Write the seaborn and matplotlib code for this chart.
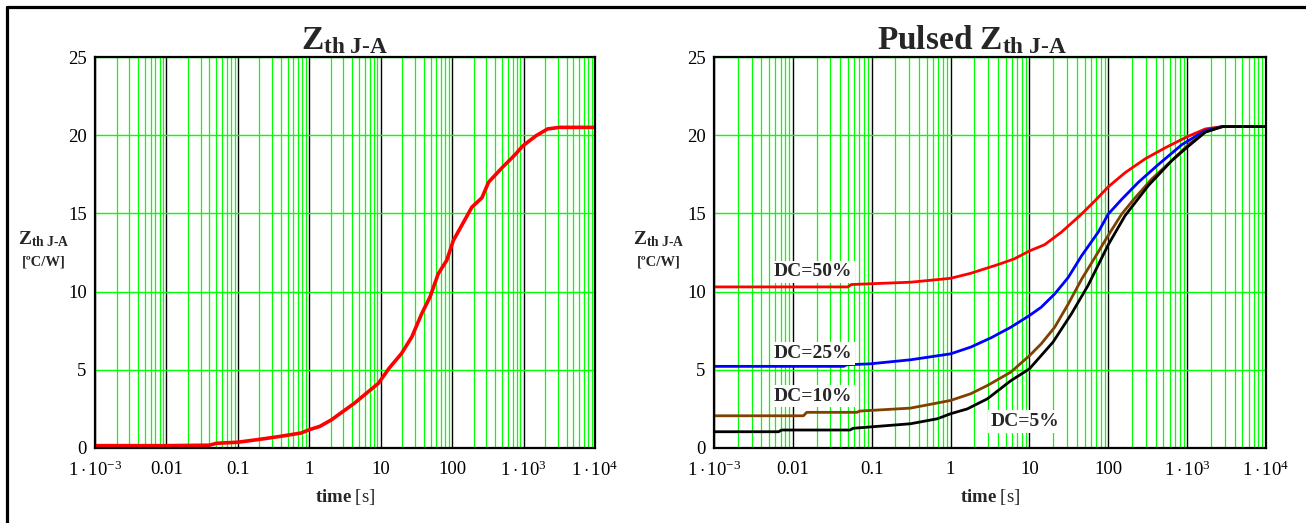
import numpy as np
import matplotlib
matplotlib.use("Agg")
import matplotlib.pyplot as plt
from matplotlib.lines import Line2D
from matplotlib.ticker import LogLocator, NullFormatter, FixedLocator
import seaborn as sns

# --- data (time in s, Zth in degC/W) ---
t_single = [1e-3, 0.01, 0.04, 0.05, 0.1, 0.2, 0.4, 0.77, 1, 1.4, 2.04, 4.3, 9.3, 13.1, 19.6,
            27.3, 37.6, 49, 64, 84, 104, 189, 261, 324, 505, 777, 966, 1490, 2170, 3170, 1e4]
z_single = [0.15, 0.15, 0.18, 0.3, 0.37, 0.55, 0.75, 0.96, 1.17, 1.38, 1.8, 2.87, 4.14, 5.1, 6.05,
            7.11, 8.6, 9.66, 11.15, 12.0, 13.27, 15.4, 16.0, 17.0, 17.94, 18.8, 19.3, 19.96, 20.4, 20.5, 20.5]

t_dc50 = [1e-3, 0.05, 0.055, 0.095, 0.31, 1, 1.8, 3.95, 6.4, 10, 15.6, 25.4, 43.5, 67.6, 100,
          163, 296, 530, 1000, 1700, 2800, 1e4]
z_dc50 = [10.3, 10.3, 10.45, 10.5, 10.6, 10.85, 11.17, 11.72, 12.09, 12.6, 13.0, 13.8, 14.85, 15.8, 16.7,
          17.6, 18.5, 19.2, 19.9, 20.4, 20.55, 20.55]

t_dc25 = [1e-3, 0.044, 0.048, 0.095, 0.31, 1, 1.8, 3.24, 5.8, 10, 14.1, 20.9, 31, 46, 74.5, 100,
          148, 242, 437, 860, 1700, 2800, 1e4]
z_dc25 = [5.22, 5.22, 5.32, 5.38, 5.64, 6.02, 6.45, 7.04, 7.72, 8.47, 9.0, 9.85, 10.9, 12.3, 13.8, 14.96,
          15.9, 17.0, 18.15, 19.4, 20.3, 20.55, 20.55]

t_dc10 = [1e-3, 0.0136, 0.015, 0.065, 0.07, 0.31, 1, 1.8, 2.94, 5.8, 10, 14.1, 20.9, 31, 46, 68,
          100, 148, 219, 356, 646, 1040, 1700, 2800, 1e4]
z_dc10 = [2.06, 2.06, 2.28, 2.28, 2.36, 2.55, 3.04, 3.47, 4.0, 4.85, 5.9, 6.66, 7.72, 9.2, 10.8, 12.2,
          13.6, 14.96, 16.0, 17.2, 18.4, 19.4, 20.2, 20.55, 20.55]

t_dc5 = [1e-3, 0.0066, 0.0072, 0.053, 0.058, 0.31, 0.68, 1, 1.63, 2.94, 5.8, 10, 19.9, 34, 55.5,
         100, 163, 325, 646, 1040, 1700, 2800, 1e4]
z_dc5 = [1.04, 1.04, 1.15, 1.15, 1.26, 1.55, 1.87, 2.19, 2.5, 3.15, 4.3, 5.06, 6.77, 8.57, 10.4,
         13.0, 14.85, 16.8, 18.4, 19.3, 20.2, 20.55, 20.55]

x_ticks = [1e-3, 1e-2, 1e-1, 1, 10, 100, 1e3, 1e4]
x_ticklabels = [r'$1\cdot10^{-3}$', '0.01', '0.1', '1', '10', '100', r'$1\cdot10^{3}$', r'$1\cdot10^{4}$']
y_ticks = [0, 5, 10, 15, 20, 25]

dc_labels = ['DC=50%', 'DC=25%', 'DC=10%', 'DC=5%']
dc_label_t = [0.018, 0.018, 0.018, 8.8]
dc_label_z = [11.27, 6.05, 3.32, 1.7]

# --- style ---
sns.set_theme(style="white")
plt.rcParams['font.family'] = ['Liberation Serif', 'DejaVu Serif']
plt.rcParams['mathtext.fontset'] = 'custom'
plt.rcParams['mathtext.rm'] = 'Liberation Serif'
plt.rcParams['mathtext.it'] = 'Liberation Serif:italic'
plt.rcParams['mathtext.bf'] = 'Liberation Serif:bold'

W, H = 1306, 523
fig = plt.figure(figsize=(W / 100, H / 100), dpi=100)
fig.patch.set_facecolor('white')

GREEN = '#00ff00'


def setup_axis(ax):
    ax.set_xscale('log')
    ax.set_xlim(1e-3, 1e4)
    ax.set_ylim(0, 25)
    ax.xaxis.set_major_locator(FixedLocator(x_ticks))
    ax.xaxis.set_minor_locator(LogLocator(base=10, subs=np.arange(2, 10)))
    ax.xaxis.set_minor_formatter(NullFormatter())
    ax.set_xticklabels(x_ticklabels)
    ax.set_yticks(y_ticks)
    ax.grid(which='minor', axis='x', color=GREEN, lw=0.9)
    ax.grid(which='major', axis='x', color='black', lw=1.0)
    ax.grid(which='major', axis='y', color=GREEN, lw=1.0)
    ax.set_axisbelow(True)
    ax.tick_params(which='both', length=0, labelsize=13.5, colors='black')
    ax.tick_params(axis='x', pad=9)
    ax.tick_params(axis='y', pad=6)
    for s in ax.spines.values():
        s.set_color('black')
        s.set_linewidth(1.6)
    ax.set_xlabel('')
    ax.set_ylabel('')


ax1 = fig.add_axes([95 / W, 1 - 448 / H, 500 / W, 391 / H])
ax2 = fig.add_axes([714 / W, 1 - 448 / H, 552 / W, 391 / H])
setup_axis(ax1)
setup_axis(ax2)

# --- curves ---
sns.lineplot(x=t_single, y=z_single, ax=ax1, color='#ff0000', lw=2.6, sort=False)

curves = [(t_dc50, z_dc50, '#ff0000'), (t_dc25, z_dc25, '#0000ff'),
          (t_dc10, z_dc10, '#804000'), (t_dc5, z_dc5, '#000000')]
for tt, zz, c in curves:
    sns.lineplot(x=tt, y=zz, ax=ax2, color=c, lw=2.0, sort=False)
setup_axis(ax2)
setup_axis(ax1)

for lab, tx, zy in zip(dc_labels, dc_label_t, dc_label_z):
    ax2.text(tx, zy, lab, ha='center', va='center', fontsize=14, fontweight='bold',
             bbox=dict(facecolor='white', edgecolor='none', pad=2), zorder=5)

# --- titles and axis labels (figure pixel positions) ---
zth = r'$\mathbf{Z}_{\mathbf{th\ J}\text{-}\mathbf{A}}$'
fig.text(345 / W, 1 - 49 / H, zth, fontsize=24, ha='center', va='baseline')
fig.text(972 / W, 1 - 49 / H, r'$\mathbf{Pulsed\ Z}_{\mathbf{th\ J}\text{-}\mathbf{A}}$',
         fontsize=24, ha='center', va='baseline')

for xc in (44, 659):
    fig.text(xc / W, 1 - 244 / H, zth, fontsize=14, ha='center', va='baseline')
    fig.text(xc / W, 1 - 262 / H, '[ºC/W]', fontsize=10.5, fontweight='bold',
             ha='center', va='center')

for xc in (345, 990):
    fig.text(xc / W, 1 - 497 / H, r'$\mathbf{time}\ [\mathrm{s}]$', fontsize=13.5,
             ha='center', va='center')

# outer frame (left and top edges only, as in the reference)
fx, fy = 6.5 / W, 1 - 7 / H
fig.add_artist(Line2D([fx, fx], [0, fy], color='black', lw=2.3, transform=fig.transFigure))
fig.add_artist(Line2D([fx, 1], [fy, fy], color='black', lw=2.3, transform=fig.transFigure))

fig.savefig('out.png', dpi=100)
